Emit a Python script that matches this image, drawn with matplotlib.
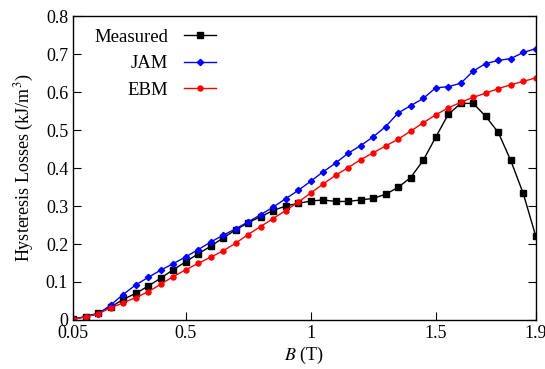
import numpy as np
import matplotlib
matplotlib.use("Agg")
import matplotlib.pyplot as plt

B = [0.05, 0.10, 0.15, 0.20, 0.25, 0.30, 0.35, 0.40, 0.45, 0.50,
     0.55, 0.60, 0.65, 0.70, 0.75, 0.80, 0.85, 0.90, 0.95, 1.00,
     1.05, 1.10, 1.15, 1.20, 1.25, 1.30, 1.35, 1.40, 1.45, 1.50,
     1.55, 1.60, 1.65, 1.70, 1.75, 1.80, 1.85, 1.90]

measured = [0.002, 0.009, 0.018, 0.034, 0.054, 0.070, 0.089, 0.110, 0.132, 0.153,
            0.174, 0.194, 0.216, 0.237, 0.256, 0.272, 0.288, 0.300, 0.307, 0.313,
            0.316, 0.312, 0.312, 0.316, 0.320, 0.331, 0.349, 0.375, 0.420, 0.481,
            0.541, 0.570, 0.570, 0.536, 0.494, 0.420, 0.333, 0.221]

jam = [0.002, 0.009, 0.016, 0.039, 0.067, 0.092, 0.112, 0.131, 0.148, 0.166,
       0.185, 0.205, 0.223, 0.240, 0.258, 0.277, 0.297, 0.319, 0.341, 0.365,
       0.390, 0.413, 0.439, 0.459, 0.482, 0.509, 0.545, 0.564, 0.583, 0.611,
       0.614, 0.623, 0.655, 0.675, 0.683, 0.688, 0.704, 0.714]

ebm = [0.002, 0.008, 0.016, 0.032, 0.045, 0.059, 0.074, 0.094, 0.114, 0.132,
       0.149, 0.165, 0.182, 0.202, 0.225, 0.246, 0.267, 0.288, 0.310, 0.334,
       0.358, 0.381, 0.401, 0.422, 0.440, 0.458, 0.476, 0.497, 0.519, 0.540,
       0.558, 0.573, 0.586, 0.597, 0.609, 0.619, 0.628, 0.637]

xticks = [0.05, 0.5, 1, 1.5, 1.9]
xticklabels = ["0.05", "0.5", "1", "1.5", "1.9"]
yticks = [0, 0.1, 0.2, 0.3, 0.4, 0.5, 0.6, 0.7, 0.8]
yticklabels = ["0", "0.1", "0.2", "0.3", "0.4", "0.5", "0.6", "0.7", "0.8"]

plt.rcParams['font.family'] = ['Liberation Serif', 'DejaVu Serif']
plt.rcParams['mathtext.fontset'] = 'stix'

fig = plt.figure(figsize=(5.45, 3.69), dpi=100)
ax = fig.add_axes([0.134, 0.1328, 0.849, 0.8238])

ax.plot(B, measured, color='black', marker='s', markersize=4.2, lw=1.0, label='Measured')
ax.plot(B, jam, color='blue', marker='D', markersize=3.2, lw=1.0, label='JAM')
ax.plot(B, ebm, color='red', marker='o', markersize=3.6, lw=1.0, label='EBM')

ax.set_xlim(0.05, 1.9)
ax.set_ylim(0, 0.8)
ax.set_xticks(xticks)
ax.set_xticklabels(xticklabels)
ax.set_yticks(yticks)
ax.set_yticklabels(yticklabels)
ax.tick_params(direction='in', length=6, width=0.8, labelsize=13, right=True, top=False)
for s in ax.spines.values():
    s.set_linewidth(1.0)

ax.set_xlabel(r'$B$ (T)', fontsize=13, labelpad=2)
ax.set_ylabel(r'Hysteresis Losses (kJ/m$^3$)', fontsize=13, labelpad=7)

leg = ax.legend(loc='upper left', frameon=False, markerfirst=False, fontsize=13.5,
                handlelength=1.7, handletextpad=0.85, labelspacing=0.5,
                borderaxespad=0.72, bbox_to_anchor=(0.0, 1.027))
for t in leg.get_texts():
    t.set_ha('right')

fig.savefig('out.png', dpi=100)
